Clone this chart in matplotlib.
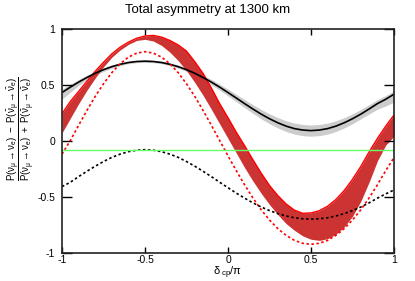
import numpy as np
import matplotlib.pyplot as plt

plt.rcParams['font.family'] = 'Liberation Sans'
plt.rcParams['mathtext.fontset'] = 'custom'
plt.rcParams['mathtext.rm'] = 'Liberation Sans'
plt.rcParams['mathtext.it'] = 'Liberation Sans'
plt.rcParams['axes.unicode_minus'] = False

# delta_cp / pi, step 0.05
delta = [-1.0, -0.95, -0.9, -0.85, -0.8, -0.75, -0.7, -0.65, -0.6, -0.55, -0.5,
         -0.45, -0.4, -0.35, -0.3, -0.25, -0.2, -0.15, -0.1, -0.05, 0.0,
         0.05, 0.1, 0.15, 0.2, 0.25, 0.3, 0.35, 0.4, 0.45, 0.5,
         0.55, 0.6, 0.65, 0.7, 0.75, 0.8, 0.85, 0.9, 0.95, 1.0]

# red band, upper and lower edge
band_hi = [0.24, 0.35, 0.44, 0.53, 0.62, 0.70, 0.775, 0.835, 0.88, 0.915, 0.935,
           0.94, 0.925, 0.895, 0.855, 0.80, 0.705, 0.60, 0.47, 0.33, 0.205,
           0.075, -0.045, -0.17, -0.29, -0.40, -0.49, -0.565, -0.62, -0.648, -0.645,
           -0.625, -0.585, -0.525, -0.445, -0.345, -0.23, -0.10, 0.02, 0.13, 0.23]
band_lo = [0.07, 0.20, 0.33, 0.45, 0.56, 0.66, 0.745, 0.81, 0.86, 0.895, 0.905,
           0.89, 0.85, 0.79, 0.715, 0.625, 0.52, 0.405, 0.28, 0.15, 0.02,
           -0.11, -0.24, -0.36, -0.47, -0.57, -0.66, -0.74, -0.80, -0.85, -0.88,
           -0.89, -0.875, -0.835, -0.77, -0.675, -0.54, -0.37, -0.18, -0.04, 0.04]
red_dash = [-0.12, 0.001, 0.137, 0.270, 0.395, 0.508, 0.607, 0.687, 0.746, 0.782, 0.795,
            0.782, 0.746, 0.687, 0.607, 0.508, 0.395, 0.270, 0.137, 0.001, -0.135,
            -0.268, -0.394, -0.511, -0.617, -0.708, -0.785, -0.845, -0.89, -0.916, -0.925,
            -0.916, -0.89, -0.845, -0.785, -0.708, -0.617, -0.511, -0.394, -0.268, -0.15]

# black curve and its grey band (offsets above / below)
black = [0.43, 0.478, 0.523, 0.564, 0.602, 0.634, 0.661, 0.682, 0.698, 0.707, 0.71,
         0.707, 0.698, 0.682, 0.661, 0.634, 0.602, 0.564, 0.523, 0.478, 0.43,
         0.381, 0.331, 0.283, 0.237, 0.196, 0.160, 0.130, 0.108, 0.095, 0.09,
         0.095, 0.108, 0.130, 0.160, 0.196, 0.237, 0.283, 0.331, 0.37, 0.415]
grey_up = [0.03, 0.027, 0.024, 0.021, 0.018, 0.016, 0.014, 0.012, 0.011, 0.010, 0.01,
           0.01, 0.011, 0.012, 0.014, 0.016, 0.018, 0.021, 0.024, 0.027, 0.03,
           0.033, 0.036, 0.039, 0.042, 0.044, 0.046, 0.048, 0.049, 0.05, 0.05,
           0.05, 0.049, 0.048, 0.046, 0.044, 0.042, 0.039, 0.036, 0.033, 0.03]
grey_dn = [0.06, 0.045, 0.03, 0.021, 0.018, 0.016, 0.014, 0.012, 0.011, 0.010, 0.01,
           0.01, 0.011, 0.012, 0.014, 0.016, 0.018, 0.021, 0.024, 0.027, 0.03,
           0.033, 0.036, 0.039, 0.042, 0.044, 0.046, 0.048, 0.049, 0.05, 0.05,
           0.05, 0.049, 0.048, 0.046, 0.044, 0.042, 0.045, 0.05, 0.06, 0.07]
black_dash = [-0.41, -0.371, -0.321, -0.273, -0.228, -0.186, -0.149, -0.120, -0.098, -0.085, -0.08,
              -0.085, -0.098, -0.120, -0.149, -0.186, -0.228, -0.273, -0.321, -0.371, -0.42,
              -0.468, -0.513, -0.555, -0.592, -0.624, -0.651, -0.672, -0.688, -0.697, -0.70,
              -0.697, -0.688, -0.672, -0.651, -0.624, -0.592, -0.555, -0.513, -0.475, -0.44]

green_level = -0.085

ticks = [-1, -0.5, 0, 0.5, 1]
tick_labels = ['-1', '-0.5', '0', '0.5', '1']

black = np.array(black)

fig = plt.figure(figsize=(4.15, 2.81), dpi=100)
ax = fig.add_axes([62/415, 1-252.7/281, 332/415, 224/281])

ax.fill_between(delta, black - np.array(grey_dn), black + np.array(grey_up), color='#cccccc', lw=0)
ax.fill_between(delta, band_lo, band_hi, color='#cc3333', lw=0)
ax.plot(delta, band_hi, color='#ff0000', lw=1.0)
ax.plot(delta, black, color='black', lw=1.2)
ax.plot(delta, red_dash, color='#ff0000', lw=1.2, ls=(0, (1.5, 1.5)))
ax.plot(delta, black_dash, color='black', lw=1.2, ls=(0, (1.5, 1.5)))
ax.axhline(green_level, color='#66ff66', lw=1.0)

ax.set_xlim(-1, 1)
ax.set_ylim(-1, 1)
ax.set_xticks(ticks)
ax.set_xticklabels(tick_labels)
ax.set_yticks(ticks)
ax.set_yticklabels(tick_labels)
ax.tick_params(axis='x', direction='in', length=4.3, width=1, top=True, labelsize=7.5, pad=2)
ax.tick_params(axis='y', direction='in', length=7, width=1, right=True, labelsize=7.5, pad=5)
for sp in ax.spines.values():
    sp.set_linewidth(1.2)
    sp.set_color('#222222')

ax.set_xlabel(r'$\delta_{\ cp}/\pi$', fontsize=8)
ax.xaxis.set_label_coords(0.5, -0.055)

ylab = (r'$\dfrac{P(\nu_{\mu} \rightarrow \nu_{e})\ -\ P(\bar{\nu}_{\mu} \rightarrow \bar{\nu}_{e})}'
        r'{P(\nu_{\mu} \rightarrow \nu_{e})\ +\ P(\bar{\nu}_{\mu} \rightarrow \bar{\nu}_{e})}$')
fig.text(21/415, 1-129/281, ylab, rotation=90, ha='center', va='center', fontsize=7)

fig.text(0.5, 1-10/281, 'Total asymmetry at 1300 km', ha='center', va='center', fontsize=9.5)

fig.savefig('out.png', dpi=100)
